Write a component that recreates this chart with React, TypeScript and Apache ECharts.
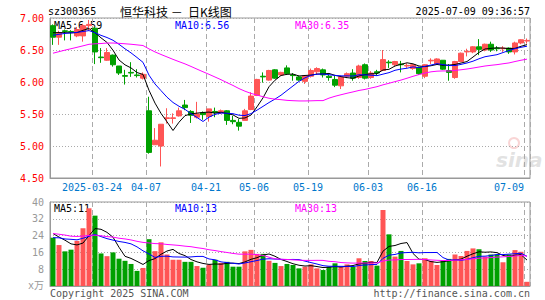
import React, { useEffect, useRef } from 'react';
import * as echarts from 'echarts';

const dates = [
  '2025-03-13','2025-03-14','2025-03-17','2025-03-18','2025-03-19','2025-03-20','2025-03-21','2025-03-24','2025-03-25','2025-03-26',
  '2025-03-27','2025-03-28','2025-03-31','2025-04-01','2025-04-02','2025-04-03','2025-04-07','2025-04-08','2025-04-09','2025-04-10',
  '2025-04-11','2025-04-14','2025-04-15','2025-04-16','2025-04-17','2025-04-18','2025-04-21','2025-04-22','2025-04-23','2025-04-24',
  '2025-04-25','2025-04-28','2025-04-29','2025-04-30','2025-05-06','2025-05-07','2025-05-08','2025-05-09','2025-05-12','2025-05-13',
  '2025-05-14','2025-05-15','2025-05-16','2025-05-19','2025-05-20','2025-05-21','2025-05-22','2025-05-23','2025-05-26','2025-05-27',
  '2025-05-28','2025-05-29','2025-05-30','2025-06-03','2025-06-04','2025-06-05','2025-06-06','2025-06-09','2025-06-10','2025-06-11',
  '2025-06-12','2025-06-13','2025-06-16','2025-06-17','2025-06-18','2025-06-19','2025-06-20','2025-06-23','2025-06-24','2025-06-25',
  '2025-06-26','2025-06-27','2025-06-30','2025-07-01','2025-07-02','2025-07-03','2025-07-04','2025-07-07','2025-07-08','2025-07-09',
];

const opens = [
  6.88,6.70,6.80,6.79,6.72,6.72,6.88,6.84,6.39,6.34,
  6.42,6.25,6.10,6.15,6.11,6.06,5.55,5.02,5.00,5.43,
  5.43,5.47,5.64,5.54,5.45,5.52,5.46,5.54,5.52,5.55,
  5.40,5.37,5.40,5.57,5.79,6.09,6.03,6.19,6.11,6.22,
  6.11,6.08,6.01,6.09,6.16,6.19,6.09,6.04,5.94,6.09,
  6.14,6.07,6.27,6.07,6.16,6.18,6.31,6.27,6.28,6.25,
  6.21,6.23,6.09,6.33,6.28,6.34,6.18,6.07,6.32,6.47,
  6.47,6.55,6.50,6.59,6.53,6.52,6.53,6.47,6.61,6.64,
];
const closes = [
  6.70,6.77,6.79,6.78,6.82,6.88,6.90,6.47,6.38,6.46,
  6.27,6.14,6.09,6.14,6.10,6.12,4.90,5.09,5.34,5.44,
  5.44,5.55,5.60,5.48,5.50,5.49,5.58,5.52,5.55,5.40,
  5.38,5.31,5.55,5.78,6.04,6.08,6.18,6.06,6.15,6.13,
  6.10,6.03,6.10,6.18,6.21,6.11,6.07,5.95,6.08,6.13,
  6.06,6.25,6.06,6.14,6.14,6.35,6.30,6.32,6.27,6.26,
  6.27,6.13,6.27,6.34,6.36,6.20,6.15,6.32,6.45,6.48,
  6.55,6.51,6.59,6.50,6.52,6.53,6.47,6.61,6.66,6.65,
];
const lows = [
  6.58,6.58,6.65,6.65,6.70,6.63,6.80,6.28,6.30,6.33,
  6.24,6.11,5.96,6.08,6.07,6.04,4.88,5.02,4.68,5.35,
  5.35,5.46,5.56,5.36,5.43,5.41,5.38,5.45,5.50,5.33,
  5.34,5.24,5.40,5.56,5.78,5.99,6.02,6.05,6.10,6.11,
  6.02,6.02,5.97,6.07,6.12,6.07,6.02,5.92,5.89,6.06,
  6.02,6.05,6.04,6.05,6.10,6.17,6.22,6.24,6.15,6.22,
  6.19,6.11,6.06,6.28,6.27,6.19,6.02,6.05,6.31,6.40,
  6.45,6.42,6.48,6.47,6.48,6.47,6.44,6.43,6.59,6.60,
];
const highs = [
  6.90,6.80,6.82,6.81,6.86,6.91,6.97,6.86,6.53,6.53,
  6.43,6.25,6.19,6.31,6.20,6.15,5.77,5.28,5.34,5.59,
  5.51,5.60,5.72,5.56,5.69,5.54,5.58,5.60,5.57,5.56,
  5.47,5.42,5.58,5.84,6.05,6.15,6.19,6.20,6.16,6.26,
  6.14,6.10,6.11,6.21,6.23,6.21,6.12,6.10,6.10,6.15,
  6.20,6.27,6.29,6.17,6.19,6.50,6.34,6.33,6.33,6.29,
  6.28,6.24,6.28,6.37,6.37,6.34,6.28,6.33,6.46,6.52,
  6.56,6.67,6.60,6.63,6.56,6.56,6.54,6.63,6.67,6.68,
];
// volume in 10k lots (万)
const volumes = [
  23,19.5,16.5,17.3,21.5,27.5,37,33.5,15.5,14.2,
  16,13,12,10.5,7.2,8.6,22.3,16.6,20.8,15,
  12.5,12.5,11.5,11.5,9.5,8.7,10.2,12.5,11,11.5,
  9.2,9.2,16.5,17.2,15.3,15.3,12,11,9.5,10.5,
  10,8.4,9.2,10.3,8.4,7.6,9.2,10.8,9.2,10.3,
  9.2,13.2,11.9,11.9,9.7,36.2,24.6,14,16.7,11.9,
  10.3,10.8,13.2,11.9,10,11.9,12.9,15,14.3,16.7,
  17.9,17.5,14,15,15,11.3,15,17.1,16.3,2,
];
// sessions before the visible window, inferred from where the MA lines start
const priorCloses = [
  6.05,6.08,6.12,6.15,6.18,6.20,6.22,6.25,6.22,6.28,
  6.30,6.30,6.35,6.40,6.42,6.48,6.50,6.55,6.58,6.57,
  6.62,6.65,6.70,6.74,6.74,6.76,6.80,6.79,6.80,
];
const priorVolumes = [
  30,28,34,25,22,27,31,24,26,23,
  29,22,25,27,24,30,26,23,25,19,
  20,22,19,24,20,28,24,26,24,
];

const labelIndices = [7, 16, 26, 34, 43, 53, 62, 79];
const priceMaLabels = ['MA5:6.59', 'MA10:6.56', 'MA30:6.35'];
const volumeMaLabels = ['MA5:11', 'MA10:13', 'MA30:13'];
const maColors = ['#000000', '#0000ff', '#ff00ff'];
const maPeriods = [5, 10, 30];
const stockCode = 'sz300365';
const titleText = '恒华科技 －  日K线图';
const timeText = '2025-07-09 09:36:57';

const UP = '#ff5555';
const DOWN = '#00a000';
const MONO = '"DejaVu Sans Mono", monospace';

function movingAvg(prior: number[], vals: number[], n: number) {
  const all = prior.concat(vals);
  return vals.map((_, i) => {
    const end = prior.length + i;
    let s = 0;
    for (let k = end - n + 1; k <= end; k++) s += all[k];
    return +(s / n).toFixed(3);
  });
}

export default function App() {
  const ref = useRef<HTMLDivElement>(null);
  useEffect(() => {
    document.body.style.margin = '0';
    if (!ref.current) return;
    const chart = echarts.init(ref.current, undefined, { renderer: 'svg' });
    const isLabel = (i: number) => labelIndices.includes(i);
    const candle = dates.map((_, i) => [opens[i], closes[i], lows[i], highs[i]]);
    const volData = volumes.map((v, i) => ({
      value: v,
      itemStyle: { color: closes[i] >= opens[i] ? UP : DOWN },
    }));
    const priceMA = maPeriods.map((n) => movingAvg(priorCloses, closes, n));
    const volMA = maPeriods.map((n) => movingAvg(priorVolumes, volumes, n));
    const splitX = {
      show: true,
      interval: (i: number) => isLabel(i),
      lineStyle: { color: '#aaaaaa', type: [5, 3] as any, width: 1 },
    };
    const textStyle = (x: number, y: number, text: string, fill: string, extra: any = {}) => ({
      type: 'text',
      x,
      y,
      silent: true,
      style: { text, fill, font: '10px ' + MONO, textVerticalAlign: 'middle', ...extra },
    });
    const maLabelX = [54, 175, 295];
    const option: any = {
      animation: false,
      backgroundColor: '#ffffff',
      grid: [
        { left: 50, top: 18, width: 480, height: 160, show: true, borderColor: '#999999', borderWidth: 1 },
        { left: 50, top: 202, width: 480, height: 84, show: true, borderColor: '#999999', borderWidth: 1 },
      ],
      xAxis: [
        {
          type: 'category',
          gridIndex: 0,
          data: dates,
          boundaryGap: true,
          axisLine: { show: true, lineStyle: { color: '#999999' } },
          axisTick: { show: false },
          axisLabel: {
            interval: (i: number) => isLabel(i),
            margin: 4,
            formatter: (v: string, i: number) => {
              if (i === 7) return '{a|' + v + '}';
              if (i === 79) return '{b|' + v.slice(5) + '}';
              return '{a|' + v.slice(5) + '}';
            },
            rich: {
              a: { color: '#0077cc', fontFamily: MONO, fontSize: 10, padding: [0, 6, 0, 0] },
              b: { color: '#0077cc', fontFamily: MONO, fontSize: 10, padding: [0, 36, 0, 0] },
            },
          },
          splitLine: splitX,
        },
        {
          type: 'category',
          gridIndex: 1,
          data: dates,
          boundaryGap: true,
          axisLine: { show: true, lineStyle: { color: '#999999' } },
          axisTick: { show: false },
          axisLabel: { show: false, interval: (i: number) => isLabel(i) },
          splitLine: splitX,
        },
      ],
      yAxis: [
        {
          type: 'value',
          gridIndex: 0,
          min: 4.5,
          max: 7,
          interval: 0.5,
          axisLine: { show: true, lineStyle: { color: '#999999' } },
          axisTick: { show: false },
          axisLabel: {
            color: '#ff0000',
            fontFamily: MONO,
            fontSize: 10,
            margin: 6,
            formatter: (v: number) => v.toFixed(2),
          },
          splitLine: { show: true, lineStyle: { color: '#aaaaaa', type: [1, 2] as any } },
        },
        {
          type: 'value',
          gridIndex: 1,
          min: 0,
          max: 40,
          interval: 8,
          axisLine: { show: true, lineStyle: { color: '#999999' } },
          axisTick: { show: false },
          axisLabel: {
            color: '#999999',
            fontFamily: MONO,
            fontSize: 10,
            margin: 6,
            formatter: (v: number) => (v === 0 ? '' : String(v)),
          },
          splitLine: { show: true, lineStyle: { color: '#aaaaaa', type: [1, 2] as any } },
        },
      ],
      series: [
        {
          type: 'candlestick',
          xAxisIndex: 0,
          yAxisIndex: 0,
          data: candle,
          barWidth: 5,
          itemStyle: { color: UP, color0: DOWN, borderColor: UP, borderColor0: DOWN, borderWidth: 1 },
        },
        ...priceMA.map((d, k) => ({
          type: 'line',
          xAxisIndex: 0,
          yAxisIndex: 0,
          data: d,
          symbol: 'none',
          silent: true,
          lineStyle: { color: maColors[k], width: 1 },
        })),
        {
          type: 'bar',
          xAxisIndex: 1,
          yAxisIndex: 1,
          data: volData,
          barWidth: 5,
        },
        ...volMA.map((d, k) => ({
          type: 'line',
          xAxisIndex: 1,
          yAxisIndex: 1,
          data: d,
          symbol: 'none',
          silent: true,
          lineStyle: { color: maColors[k], width: 1 },
        })),
      ],
      graphic: [
        textStyle(48, 11, stockCode, '#000000'),
        {
          type: 'text',
          x: 120,
          y: 11,
          silent: true,
          style: { text: titleText, fill: '#000000', font: '12px "Noto Sans CJK SC"', textVerticalAlign: 'middle' },
        },
        textStyle(530, 11, timeText, '#000000', { textAlign: 'right' }),
        ...priceMaLabels.map((t, k) => textStyle(maLabelX[k], 25, t, maColors[k])),
        ...volumeMaLabels.map((t, k) => textStyle(maLabelX[k], 208, t, maColors[k])),
        textStyle(44, 285, 'x万', '#999999', { textAlign: 'right', font: '10px "DejaVu Sans Mono", "Noto Sans CJK SC"' }),
        textStyle(50, 293, 'Copyright 2025 SINA.COM', '#555555'),
        textStyle(530, 293, 'http://finance.sina.com.cn', '#555555', { textAlign: 'right' }),
        {
          type: 'text',
          x: 496,
          y: 160,
          silent: true,
          style: {
            text: 'sina',
            fill: 'rgba(190,190,190,0.45)',
            font: 'italic bold 20px "DejaVu Sans"',
            textVerticalAlign: 'middle',
          },
        },
        {
          type: 'circle',
          silent: true,
          shape: { cx: 514, cy: 143, r: 5 },
          style: { fill: 'none', stroke: 'rgba(240,150,150,0.4)', lineWidth: 2 },
        },
      ],
    };
    chart.setOption(option);
    return () => chart.dispose();
  }, []);
  return <div ref={ref} style={{ width: 545, height: 300 }} />;
}
